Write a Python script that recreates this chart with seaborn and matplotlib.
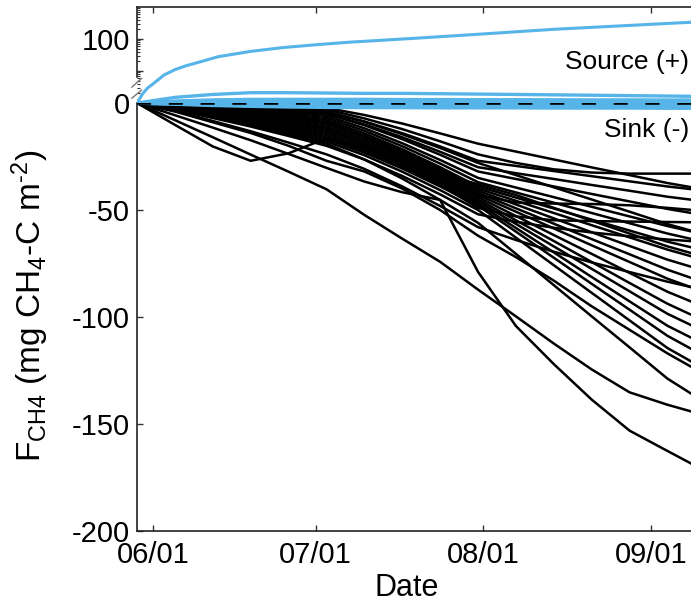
import numpy as np
import pandas as pd
import matplotlib
matplotlib.use("Agg")
import matplotlib.pyplot as plt
import matplotlib.dates as mdates
import matplotlib.ticker as mticker
from matplotlib.lines import Line2D
import seaborn as sns

# --- Data ---
# weekly sampling dates
dates = pd.to_datetime([
    "2014-05-29", "2014-06-05", "2014-06-12", "2014-06-19", "2014-06-26",
    "2014-07-03", "2014-07-10", "2014-07-17", "2014-07-24", "2014-07-31",
    "2014-08-07", "2014-08-14", "2014-08-21", "2014-08-28", "2014-09-04",
    "2014-09-11",
])

# sink sites (cumulative, mg CH4-C m-2)
c01 = [0, -0.3, -0.8, -1.3, -1.8, -2.3, -5.6, -9.6, -14.2, -19, -22.7, -26.4, -30.1, -33.7, -37.4, -40.5]
c02 = [0, -0.5, -1.1, -1.7, -2.3, -3, -7.2, -12.2, -17.9, -24, -28, -31, -32.5, -33, -33, -33]
c03 = [0, -0.6, -1.4, -2.2, -3.1, -4, -8.6, -14.1, -20.3, -27, -29.4, -31.8, -34.2, -36.6, -39, -41]
c04 = [0, -0.8, -1.8, -2.8, -3.9, -5, -10, -16, -22.8, -30, -32.8, -35.5, -38.3, -41, -43.8, -46]
c05 = [0, -0.8, -1.8, -2.8, -3.9, -5, -10.4, -16.9, -24.2, -32, -35.5, -39, -42.5, -46, -49.5, -52.5]
c06 = [0, -1.4, -3.2, -5, -6.9, -9, -15.8, -24, -33.1, -43, -46.5, -47, -47.2, -47.8, -49, -50.5]
c07 = [0, -1.8, -4.2, -6.6, -9.2, -12, -19.4, -28.3, -38.3, -49, -53, -54.8, -55.2, -55.4, -55.6, -55.8]
c08 = [0, -0.9, -2.1, -3.3, -4.6, -6, -11.8, -18.8, -26.6, -35, -39.5, -44, -48.5, -53, -57.5, -61.5]
c09 = [0, -1, -2.5, -3.9, -5.4, -7, -13, -20.2, -28.3, -37, -41.8, -46.6, -51.4, -56.2, -61, -65]
c10 = [0, -1.2, -2.8, -4.4, -6.2, -8, -14.2, -21.6, -30, -39, -44.2, -49.3, -54.5, -59.6, -64.8, -69]
c11 = [0, -1.4, -3.2, -5, -6.9, -9, -15.2, -22.6, -31, -40, -45.7, -51.4, -57.1, -62.8, -68.5, -73.5]
c12 = [0, -1.5, -3.5, -5.5, -7.7, -10, -16.2, -23.6, -32, -41, -47.4, -53.9, -60.4, -66.8, -73.2, -78.5]
c13 = [0, -1.7, -3.9, -6, -8.5, -11, -17.2, -24.6, -33, -42, -49.2, -56.4, -63.6, -70.7, -77.9, -84]
c14 = [0, -1.8, -4.2, -6.6, -9.2, -12, -18.2, -25.6, -34, -43, -50.8, -58.6, -66.5, -74.3, -82.1, -88.5]
c15 = [0, -2, -4.6, -7.2, -10, -13, -19.2, -26.6, -35, -44, -52.8, -61.7, -70.5, -79.4, -88.2, -95.5]
c16 = [0, -2.1, -4.9, -7.7, -10.8, -14, -20.2, -27.6, -36, -45, -54.8, -64.5, -74.3, -84.1, -93.8, -102]
c17 = [0, -2.3, -5.3, -8.3, -11.6, -15, -21.2, -28.6, -37, -46, -56.5, -67, -77.5, -88, -98.5, -107]
c18 = [0, -2.4, -5.6, -8.8, -12.3, -16, -22.2, -29.6, -38, -47, -58.4, -69.8, -81.3, -92.7, -104.1, -113]
c19 = [0, -2.6, -6, -9.4, -13.1, -17, -23.2, -30.6, -39, -48, -60.1, -72.3, -84.5, -96.6, -108.8, -118.5]
c20 = [0, -2.7, -6.3, -9.9, -13.9, -18, -24.4, -32.1, -40.7, -50, -62.9, -75.8, -88.7, -101.6, -114.5, -124.5]
c21 = [0, -4, -9, -14, -20, -27, -32, -40, -50, -62, -72, -83, -95, -106, -117, -127]
c22 = [0, -2.9, -6.7, -10.5, -14.6, -19, -26.4, -35.3, -45.3, -56, -70.5, -85.1, -99.7, -114.2, -128.8, -140]
c23 = [0, -8, -16, -24.1, -32.1, -40.3, -52.3, -63.4, -74.2, -87.2, -99.7, -112.4, -124.5, -135.2, -141, -146]
c24 = [0, -5.7, -11.5, -17.4, -23.8, -30.3, -36.7, -41.7, -45.3, -78.9, -104.2, -122, -138.6, -153.1, -162.6, -172]
c25 = [0, -10.2, -20.3, -27, -23.5, -16.5, -21, -27, -33, -38, -43, -49, -55, -61, -67, -72]
c26 = [0, -0.6, -1.4, -2.2, -3.1, -4, -8.8, -14.6, -21, -28, -33.7, -39.4, -45.1, -50.8, -56.6, -61.5]
c27 = [0, -3.6, -8.4, -13.2, -18.5, -24, -30.8, -39, -48.1, -58, -64, -69.5, -74.5, -79, -83.5, -87.5]
c28 = [0, -3, -7, -11, -15.4, -20, -26.4, -34.1, -42.7, -52, -55.5, -58.3, -60.5, -62.3, -63.8, -65]
sink_sites = [c01, c02, c03, c04, c05, c06, c07, c08, c09, c10, c11, c12, c13, c14,
              c15, c16, c17, c18, c19, c20, c21, c22, c23, c24, c25, c26, c27, c28]

# the strong source site (log part), sampled more densely early on
big_dates = pd.to_datetime([
    "2014-05-29", "2014-05-30", "2014-05-31", "2014-06-01", "2014-06-03",
    "2014-06-05", "2014-06-07", "2014-06-10", "2014-06-13", "2014-06-19",
    "2014-06-25", "2014-07-01", "2014-07-07", "2014-07-20", "2014-08-01",
    "2014-08-14", "2014-09-01", "2014-09-11",
])
src_big = [1.0, 1.9, 3.0, 4.0, 7.5, 11, 14.5, 20, 28, 41, 54, 66, 79, 107, 144, 201, 288, 352]

# weak source sites (log part)
src_mid = [1.0, 1.5, 1.85, 2.1, 2.1, 2.05, 2.0, 2.0, 1.95, 1.9, 1.85, 1.8, 1.75, 1.7, 1.65, 1.6]
src_low = [1.0, 1.15, 1.25, 1.3, 1.3, 1.3, 1.3, 1.28, 1.28, 1.27, 1.27, 1.26, 1.25, 1.25, 1.24, 1.24]
src_low2 = [1.0, 1.05, 1.1, 1.12, 1.12, 1.12, 1.12, 1.12, 1.11, 1.11, 1.11, 1.11, 1.1, 1.1, 1.1, 1.1]
weak_sources = [src_mid, src_low, src_low2]

# near-zero sites (blue band just under zero)
nz1 = [0, -0.2, -0.4, -0.5, -0.5, -0.6, -0.6, -0.6, -0.7, -0.7, -0.7, -0.7, -0.8, -0.8, -0.8, -0.8]
nz2 = [0, -0.4, -0.8, -1.0, -1.2, -1.3, -1.3, -1.4, -1.4, -1.5, -1.5, -1.5, -1.6, -1.6, -1.6, -1.7]
nz3 = [0, -0.5, -1.1, -1.5, -1.8, -2.0, -2.1, -2.1, -2.2, -2.2, -2.2, -2.3, -2.3, -2.3, -2.4, -2.4]
near_zero = [nz1, nz2, nz3]

y_ticks = [-200, -150, -100, -50, 0]
BLUE = "#56B4E9"


def to_long(sites, when=dates):
    rows = [(i, d, v) for i, s in enumerate(sites) for d, v in zip(when, s)]
    return pd.DataFrame(rows, columns=["site", "date", "flux"])


sns.set_theme(style="ticks", rc={"text.color": "black", "axes.labelcolor": "black",
                                 "xtick.labelcolor": "black", "ytick.labelcolor": "black"})
plt.rcParams["font.family"] = ["Liberation Sans", "DejaVu Sans"]
plt.rcParams["mathtext.fontset"] = "custom"
plt.rcParams["mathtext.rm"] = "Liberation Sans"
plt.rcParams["mathtext.it"] = "Liberation Sans:italic"
plt.rcParams["axes.unicode_minus"] = False

W, H = 691, 605
fig = plt.figure(figsize=(W / 100, H / 100), dpi=100)
x0, x1 = 137 / W, 727 / W
ax_lo = fig.add_axes([x0, 1 - 531 / H, x1 - x0, 428 / H])
ax_hi = fig.add_axes([x0, 1 - 103 / H, x1 - x0, 96 / H], sharex=ax_lo)

# lower (linear) part: sinks
sns.lineplot(data=to_long(sink_sites), x="date", y="flux", units="site", estimator=None,
             color="black", lw=1.8, ax=ax_lo, legend=False, zorder=2)
sns.lineplot(data=to_long(near_zero), x="date", y="flux", units="site", estimator=None,
             color=BLUE, lw=2.6, ax=ax_lo, legend=False, zorder=3)
ax_lo.axhline(0, color="black", lw=2.6, dashes=(3.9, 4.9), clip_on=False, zorder=5)

# upper (log) part: sources
ax_hi.set_yscale("log")
sns.lineplot(data=to_long(weak_sources), x="date", y="flux", units="site", estimator=None,
             color=BLUE, lw=2.4, ax=ax_hi, legend=False, zorder=3)
sns.lineplot(data=to_long([src_big], big_dates), x="date", y="flux", units="site",
             estimator=None, color=BLUE, lw=2.2, ax=ax_hi, legend=False, zorder=3)

ax_lo.set_xlim(pd.Timestamp("2014-05-29"), pd.Timestamp("2014-09-15"))
ax_lo.set_ylim(-200, 0)
ax_lo.set_yticks(y_ticks)
ax_lo.set_yticklabels([str(t) for t in y_ticks])
ax_lo.xaxis.set_major_locator(mdates.MonthLocator())
ax_lo.xaxis.set_major_formatter(mdates.DateFormatter("%m/%d"))

ax_hi.set_ylim(1, 1000)
ax_hi.yaxis.set_major_locator(mticker.FixedLocator([10, 100]))
ax_hi.yaxis.set_major_formatter(mticker.FuncFormatter(lambda v, p: "100" if abs(v - 100) < 1 else ""))
ax_hi.yaxis.set_minor_locator(mticker.LogLocator(base=10, subs=np.arange(2, 10)))
ax_hi.yaxis.set_minor_formatter(mticker.NullFormatter())

for ax in (ax_lo, ax_hi):
    ax.set_xlabel("")
    ax.set_ylabel("")
    ax.spines["right"].set_visible(False)
    for sp in ax.spines.values():
        sp.set_color("#222222")
        sp.set_linewidth(1.2)
    ax.tick_params(which="major", direction="in", length=4.5, width=1, color="#333333",
                   labelcolor="black", labelsize=21, pad=5)
    ax.tick_params(which="minor", direction="in", length=2.5, width=0.8, color="#333333")
ax_lo.spines["top"].set_visible(False)
ax_lo.tick_params(axis="x", pad=7)
ax_hi.spines["bottom"].set_visible(False)
ax_hi.spines["left"].set_bounds(6.3, 1000)
ax_hi.tick_params(axis="x", top=True, bottom=False, labelbottom=False)

# axis-break marks on the left spine
for ya, yb in [(87.3, 78.3), (98.3, 90.0)]:
    fig.add_artist(Line2D([131.7 / W, 141.7 / W], [1 - ya / H, 1 - yb / H],
                          color="#777777", lw=1.0))

fig.text(689 / W, 1 - 62 / H, "Source (+)", ha="right", va="center", fontsize=19, color="black")
fig.text(689 / W, 1 - 130 / H, "Sink (-)", ha="right", va="center", fontsize=19, color="black")
fig.text(407 / W, 1 - 588 / H, "Date", ha="center", va="center", fontsize=22, color="black")
fig.text(30 / W, 1 - 306 / H,
         r"F$_{\mathrm{CH4}}$ (mg CH$_{\mathrm{4}}$-C m$^{\text{-2}}$)",
         rotation=90, ha="center", va="center", fontsize=24, color="black")

fig.savefig("out.png", dpi=100)
